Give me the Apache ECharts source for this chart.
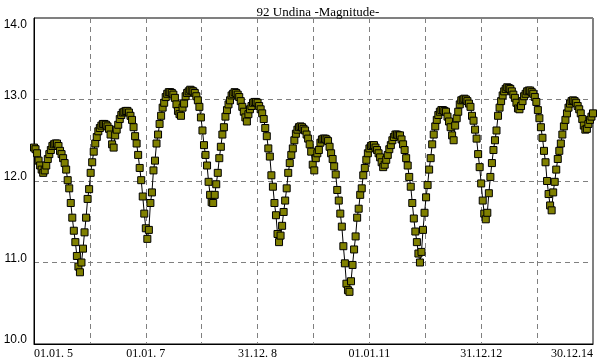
<!DOCTYPE html>
<html>
<head>
<meta charset="utf-8">
<script src="https://cdn.jsdelivr.net/npm/echarts@6/dist/echarts.min.js"></script>
<style>
  body { margin: 0; background: #fff; }
  #chart { width: 600px; height: 360px; }
</style>
</head>
<body>
<div id="chart"></div>
<script>
// one point every 10 days, starting 01.01.2005
var stepDays = 10;
var tickLabels = ['01.01. 5', '01.01. 7', '31.12. 8', '01.01.11', '31.12.12', '30.12.14'];
var magnitude = [
  12.41, 12.39, 12.34, 12.25, 12.19, 12.14, 12.10, 12.13, 12.19, 12.27,
  12.33, 12.38, 12.43, 12.45, 12.46, 12.46, 12.43, 12.37, 12.33, 12.28,
  12.22, 12.14, 12.01, 11.91, 11.73, 11.55, 11.39, 11.25, 11.08, 10.95,
  10.88, 11.00, 11.17, 11.37, 11.55, 11.78, 11.90, 12.10, 12.23, 12.36,
  12.46, 12.54, 12.61, 12.65, 12.68, 12.70, 12.70, 12.69, 12.67, 12.64,
  12.57, 12.45, 12.41, 12.56, 12.63, 12.69, 12.76, 12.81, 12.84, 12.85,
  12.86, 12.86, 12.84, 12.80, 12.75, 12.66, 12.55, 12.46, 12.32, 12.16,
  12.01, 11.81, 11.60, 11.42, 11.29, 11.40, 11.73, 11.86, 12.13, 12.25,
  12.46, 12.57, 12.70, 12.80, 12.90, 12.96, 13.03, 13.07, 13.09, 13.09,
  13.08, 13.06, 13.02, 12.94, 12.86, 12.82, 12.80, 12.90, 12.95, 13.04,
  13.08, 13.10, 13.12, 13.11, 13.10, 13.08, 13.04, 12.99, 12.91, 12.78,
  12.62, 12.44, 12.32, 12.19, 11.99, 11.83, 11.74, 11.73, 11.83, 11.96,
  12.10, 12.28, 12.42, 12.57, 12.66, 12.79, 12.87, 12.94, 12.99, 13.05,
  13.07, 13.09, 13.08, 13.06, 13.03, 12.98, 12.91, 12.85, 12.78, 12.73,
  12.82, 12.88, 12.92, 12.96, 12.97, 12.97, 12.96, 12.92, 12.88, 12.83,
  12.76, 12.65, 12.55, 12.40, 12.30, 12.07, 11.93, 11.73, 11.58, 11.35,
  11.25, 11.33, 11.45, 11.62, 11.76, 11.91, 12.10, 12.22, 12.32, 12.40,
  12.50, 12.58, 12.63, 12.66, 12.67, 12.66, 12.64, 12.62, 12.57, 12.52,
  12.45, 12.36, 12.20, 12.13, 12.28, 12.34, 12.38, 12.47, 12.51, 12.52,
  12.52, 12.51, 12.49, 12.42, 12.34, 12.27, 12.18, 12.08, 11.89, 11.76,
  11.60, 11.44, 11.20, 10.99, 10.74, 10.66, 10.64, 10.77, 10.97, 11.16,
  11.32, 11.55, 11.66, 11.83, 11.91, 12.07, 12.16, 12.26, 12.34, 12.40,
  12.43, 12.44, 12.44, 12.41, 12.38, 12.34, 12.29, 12.23, 12.17, 12.20,
  12.26, 12.32, 12.39, 12.44, 12.50, 12.54, 12.57, 12.57, 12.56, 12.56,
  12.51, 12.45, 12.38, 12.28, 12.19, 12.05, 11.93, 11.73, 11.54, 11.38,
  11.25, 11.11, 11.00, 11.13, 11.40, 11.61, 11.80, 11.95, 12.14, 12.28,
  12.45, 12.57, 12.67, 12.75, 12.81, 12.85, 12.87, 12.87, 12.86, 12.85,
  12.79, 12.73, 12.66, 12.56, 12.50, 12.68, 12.77, 12.85, 12.94, 12.99,
  13.00, 13.01, 13.00, 12.98, 12.95, 12.91, 12.80, 12.74, 12.63, 12.52,
  12.33, 12.17, 11.97, 11.76, 11.60, 11.53, 11.61, 11.85, 12.05, 12.22,
  12.38, 12.50, 12.62, 12.80, 12.90, 12.98, 13.05, 13.10, 13.13, 13.15,
  13.14, 13.13, 13.10, 13.06, 13.02, 12.96, 12.89, 12.88, 12.92, 12.98,
  13.04, 13.07, 13.10, 13.11, 13.11, 13.09, 13.07, 13.03, 12.97, 12.87,
  12.77, 12.66, 12.53, 12.37, 12.23, 12.00, 11.84, 11.70, 11.64, 11.86,
  11.99, 12.14, 12.27, 12.37, 12.46, 12.57, 12.67, 12.75, 12.83, 12.90,
  12.95, 12.98, 12.99, 12.98, 12.96, 12.92, 12.88, 12.83, 12.76, 12.68,
  12.63, 12.64, 12.70, 12.75, 12.79, 12.83
];

var points = [];
magnitude.forEach(function (m, i) {
  points.push([i * stepDays, m]);
});

var myChart = echarts.init(document.getElementById('chart'));
var gridLine = { show: true, lineStyle: { color: '#808080', type: [5, 4], width: 1 } };
var option = {
  animation: false,
  title: {
    text: '92 Undina -Magnitude-',
    left: 313,
    top: 1,
    textAlign: 'center',
    textStyle: { fontFamily: 'Liberation Serif', fontSize: 13, fontWeight: 'normal', color: '#000' }
  },
  grid: {
    left: 34, right: 7, top: 18, bottom: 16,
    show: true, borderColor: '#000', borderWidth: 1
  },
  xAxis: {
    type: 'value',
    min: 0,
    max: 3650,
    interval: 365,
    axisLine: { lineStyle: { color: '#000', width: 1 } },
    axisTick: { show: false },
    splitLine: gridLine,
    axisLabel: {
      color: '#000',
      fontFamily: 'Liberation Serif',
      fontSize: 12,
      margin: 4,
      alignMinLabel: 'left',
      alignMaxLabel: 'right',
      formatter: function (v) {
        var k = Math.round(v / 365);
        return k % 2 === 0 ? tickLabels[k / 2] : '';
      }
    }
  },
  yAxis: {
    type: 'value',
    min: 10,
    max: 14,
    interval: 1,
    axisLine: { lineStyle: { color: '#000', width: 1 } },
    axisTick: { show: false },
    splitLine: gridLine,
    axisLabel: {
      color: '#000',
      fontFamily: 'Liberation Sans',
      fontSize: 12,
      lineHeight: 8,
      margin: 7,
      verticalAlign: 'bottom',
      verticalAlignMaxLabel: 'top',
      formatter: function (v) {
        return v === 14 ? '{top|' + v.toFixed(1) + '}' : v.toFixed(1);
      },
      rich: {
        top: { fontFamily: 'Liberation Sans', fontSize: 12, lineHeight: 8, color: '#000', padding: [5, 0, 0, 0] }
      }
    }
  },
  series: [{
    type: 'line',
    data: points,
    showAllSymbol: true,
    symbol: 'rect',
    symbolSize: 7,
    lineStyle: { color: '#000', width: 1 },
    itemStyle: { color: '#808000', borderColor: '#000', borderWidth: 1 }
  }]
};
myChart.setOption(option);
</script>
</body>
</html>
